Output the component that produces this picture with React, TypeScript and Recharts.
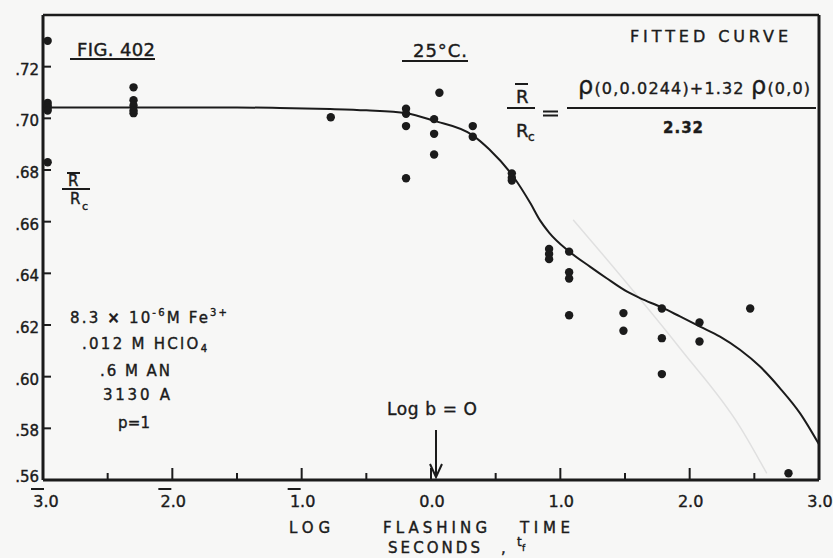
import { ComposedChart, Line, Scatter, XAxis, YAxis, ReferenceLine } from 'recharts';

const INK = '#1b1b1b';
const FONT = '"DejaVu Sans", sans-serif';

// log flashing time axis, -3 .. 3 with half-step minor ticks
const xTicks = [-3, -2.5, -2, -1.5, -1, -0.5, 0, 0.5, 1, 1.5, 2, 2.5, 3];
const yTicks = [0.56, 0.58, 0.6, 0.62, 0.64, 0.66, 0.68, 0.7, 0.72];

// measured points (log t_f, R/Rc)
const pointX = [
  -2.964, -2.964, -2.964, -2.964, -2.964, -2.964,
  -2.3, -2.3, -2.3, -2.3, -2.3,
  -0.775,
  -0.193, -0.193, -0.193, -0.193,
  0.024, 0.024, 0.024, 0.065,
  0.323, 0.323,
  0.625, 0.625, 0.625,
  0.913, 0.913, 0.913,
  1.068, 1.068, 1.068, 1.068,
  1.488, 1.488,
  1.785, 1.785, 1.785,
  2.076, 2.076,
  2.468, 2.764,
];
const pointR = [
  0.730, 0.706, 0.705, 0.704, 0.703, 0.683,
  0.712, 0.707, 0.705, 0.703, 0.702,
  0.7004,
  0.7037, 0.7018, 0.697, 0.6768,
  0.6997, 0.694, 0.686, 0.7099,
  0.697, 0.6929,
  0.6787, 0.677, 0.6759,
  0.6494, 0.6475, 0.6455,
  0.6484, 0.6404, 0.638, 0.6238,
  0.6246, 0.6178,
  0.6264, 0.6149, 0.601,
  0.621, 0.6136,
  0.6264, 0.5626,
];

// fitted curve
const curveX = [-3, -2, -1.5, -1.17, -0.78, -0.5, -0.19, 0.02, 0.32, 0.45, 0.64, 0.77, 0.843, 0.913, 1.062, 1.229, 1.358, 1.513, 1.616, 1.784, 1.925, 2.08, 2.235, 2.389, 2.544, 2.699, 2.854, 3];
const curveR = [0.7042, 0.7042, 0.7042, 0.7040, 0.7036, 0.7031, 0.7020, 0.6991, 0.6935, 0.6880, 0.6772, 0.6670, 0.6605, 0.6558, 0.6487, 0.6426, 0.6381, 0.6330, 0.6304, 0.6268, 0.6233, 0.6194, 0.6155, 0.6104, 0.6039, 0.5955, 0.5858, 0.5738];

// faint erased trace
const traceX = [1.1, 1.925, 2.389, 2.596];
const traceR = [0.6607, 0.611, 0.5806, 0.5626];

const points = pointX.map((x, i) => ({ x, y: pointR[i] }));
const curve = curveX.map((x, i) => ({ x, y: curveR[i] }));
const trace = traceX.map((x, i) => ({ x, y: traceR[i] }));

const heavy = { stroke: INK, strokeWidth: 0.4 };

function XTick({ x, y, payload }: any) {
  const v = payload.value;
  const major = Math.abs(v - Math.round(v)) < 1e-6;
  const cx = x + (v === -3 ? 3 : 1);
  return (
    <g>
      <line x1={x} x2={x} y1={y} y2={y - (major ? 12 : 7)} stroke={INK} strokeWidth={2} />
      {major && (
        <text x={cx} y={y + 27} textAnchor="middle" fontSize={16} fontFamily={FONT} fill={INK} {...heavy}>
          {Math.abs(v).toFixed(1)}
        </text>
      )}
      {major && v < 0 && (
        <line x1={cx - 15} x2={cx - 2} y1={y + 9} y2={y + 9} stroke={INK} strokeWidth={2} />
      )}
    </g>
  );
}

function YTick({ x, y, payload }: any) {
  const v = payload.value;
  const label = v.toFixed(2).replace(/^0/, '');
  return (
    <g>
      <line x1={x} x2={x + 8} y1={y} y2={y} stroke={INK} strokeWidth={2} />
      <text x={x - 4} y={y + (v < 0.57 ? 2 : 8)} textAnchor="end" fontSize={15} fontFamily={FONT} fill={INK} {...heavy}>
        {label}
      </text>
    </g>
  );
}

function Notes() {
  const t = { fontFamily: FONT, fill: INK, ...heavy };
  return (
    <svg width={833} height={558} style={{ position: 'absolute', left: 0, top: 0, pointerEvents: 'none' }}>
      <text x={77} y={56} fontSize={18} textLength={78} {...t}>FIG. 402</text>
      <line x1={70} x2={155} y1={59} y2={59} stroke={INK} strokeWidth={2} />
      <text x={413} y={57} fontSize={18} textLength={54} {...t}>25°C.</text>
      <line x1={402} x2={468} y1={61} y2={61} stroke={INK} strokeWidth={2} />
      <text x={630} y={42} fontSize={16} textLength={158} {...t}>FITTED CURVE</text>

      {/* R/Rc = ... equation */}
      <text x={516} y={103} fontSize={18} {...t}>R</text>
      <line x1={515} x2={528} y1={84} y2={84} stroke={INK} strokeWidth={2} />
      <line x1={507} x2={535} y1={108} y2={108} stroke={INK} strokeWidth={2} />
      <text x={516} y={137} fontSize={18} {...t}>R</text>
      <text x={528} y={141} fontSize={12} {...t}>c</text>
      <line x1={543} x2={558} y1={111.5} y2={111.5} stroke={INK} strokeWidth={2} />
      <line x1={543} x2={558} y1={115.5} y2={115.5} stroke={INK} strokeWidth={2} />
      <line x1={567} x2={816} y1={108} y2={108} stroke={INK} strokeWidth={2} />
      <text x={578} y={94} fontSize={16} textLength={232} {...t}>
        <tspan fontSize={24}>ρ</tspan>(0,0.0244)+1.32 <tspan fontSize={24}>ρ</tspan>(0,0)
      </text>
      <text x={663} y={133} fontSize={15} fontWeight="bold" textLength={40} {...t}>2.32</text>

      {/* axis name R/Rc */}
      <text x={68} y={186} fontSize={15} {...t}>R</text>
      <line x1={67} x2={80} y1={173} y2={173} stroke={INK} strokeWidth={2} />
      <line x1={62} x2={90} y1={189} y2={189} stroke={INK} strokeWidth={2} />
      <text x={70} y={204} fontSize={15} {...t}>R</text>
      <text x={82} y={210} fontSize={11} {...t}>c</text>

      {/* conditions */}
      <text x={70} y={323} fontSize={15} textLength={157} {...t}>
        8.3 <tspan fontWeight="bold">×</tspan> 10<tspan fontSize={10} dy={-7}>-6</tspan><tspan dy={7}>M  Fe</tspan><tspan fontSize={10} dy={-7}>3+</tspan>
      </text>
      <text x={82} y={349} fontSize={15} textLength={125} {...t}>
        .012 M  HClO<tspan fontSize={10} dy={3}>4</tspan>
      </text>
      <text x={100} y={376} fontSize={15} textLength={70} {...t}>.6 M  AN</text>
      <text x={103} y={400} fontSize={15} textLength={67} {...t}>3130 A</text>
      <text x={118} y={428} fontSize={15} textLength={32} {...t}>p = 1</text>

      {/* log b marker */}
      <text x={387} y={415} fontSize={17} textLength={90} {...t}>Log b = O</text>
      <line x1={436} x2={436} y1={430} y2={475} stroke={INK} strokeWidth={2} />
      <path d="M430,464 L436,477 L442,464" fill="none" stroke={INK} strokeWidth={2} />

      {/* x axis name */}
      <text x={289} y={533} fontSize={15} textLength={41} {...t}>LOG</text>
      <text x={383} y={533} fontSize={15} textLength={104} {...t}>FLASHING</text>
      <text x={520} y={533} fontSize={15} textLength={50} {...t}>TIME</text>
      <text x={388} y={553} fontSize={15} textLength={92} {...t}>SECONDS</text>
      <text x={501} y={553} fontSize={15} {...t}>,</text>
      <text x={517} y={546} fontSize={12} {...t}>t</text>
      <text x={522} y={551} fontSize={9} {...t}>f</text>
    </svg>
  );
}

export default function App() {
  return (
    <div style={{ position: 'absolute', left: 0, top: 0, width: 833, height: 558, background: '#f7f7f6' }}>
      <ComposedChart width={833} height={558} margin={{ top: 15, right: 14, bottom: 0, left: 0 }}>
        <XAxis
          dataKey="x"
          type="number"
          domain={[-3, 3]}
          ticks={xTicks}
          interval={0}
          height={78}
          tickSize={0}
          tickMargin={0}
          tickLine={false}
          tick={<XTick />}
          axisLine={{ stroke: INK, strokeWidth: 3 }}
          allowDataOverflow
        />
        <YAxis
          type="number"
          domain={[0.56, 0.74]}
          ticks={yTicks}
          interval={0}
          width={43}
          tickSize={0}
          tickMargin={0}
          tickLine={false}
          tick={<YTick />}
          axisLine={{ stroke: INK, strokeWidth: 3 }}
          allowDataOverflow
        />
        <ReferenceLine y={0.74} stroke={INK} strokeWidth={2.5} />
        <ReferenceLine x={3} stroke={INK} strokeWidth={3} />
        <Line data={trace} dataKey="y" type="monotone" stroke="#e0e0e0" strokeWidth={1.5} dot={false} isAnimationActive={false} />
        <Line data={curve} dataKey="y" type="monotone" stroke={INK} strokeWidth={2} dot={false} isAnimationActive={false} />
        <Scatter data={points} dataKey="y" fill={INK} isAnimationActive={false}
          shape={(p: any) => <circle cx={p.cx} cy={p.cy} r={4.2} fill={INK} />} />
      </ComposedChart>
      <Notes />
    </div>
  );
}
